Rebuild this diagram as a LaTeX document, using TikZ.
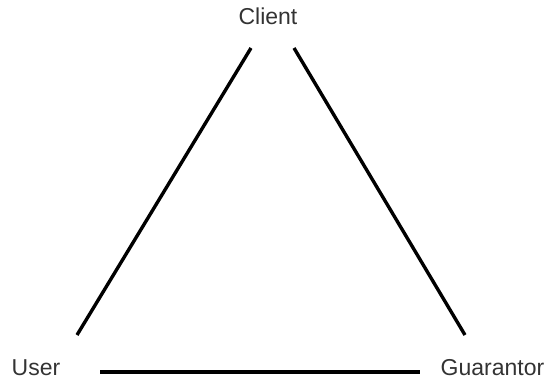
\documentclass[tikz,border=0pt]{standalone}
\usepackage{fontspec}
\setmainfont{Liberation Sans}
\begin{document}
\begin{tikzpicture}[x=1pt, y=1pt, line width=3.4pt,
    party/.style={inner sep=0pt, font=\fontsize{23}{26}\selectfont, text=black!80}]
    \useasboundingbox (0,0) rectangle (549,381);

    % Parteien
    \node[party, anchor=base] (client) at (268,356) {Client};
    \node[party, anchor=base west] (user) at (10,6) {User};
    \node[party, anchor=base east] (guarantor) at (546,6) {Guarantor};

    % Linienenden
    \coordinate (clientL) at (251,333);
    \coordinate (clientR) at (294,333);
    \coordinate (userT) at (77,46);
    \coordinate (guarT) at (465,46);
    \coordinate (userR) at (100,9);
    \coordinate (guarL) at (420,9);

    \draw (clientL) -- (userT);
    \draw (clientR) -- (guarT);
    \draw (userR) -- (guarL);
\end{tikzpicture}
\end{document}
